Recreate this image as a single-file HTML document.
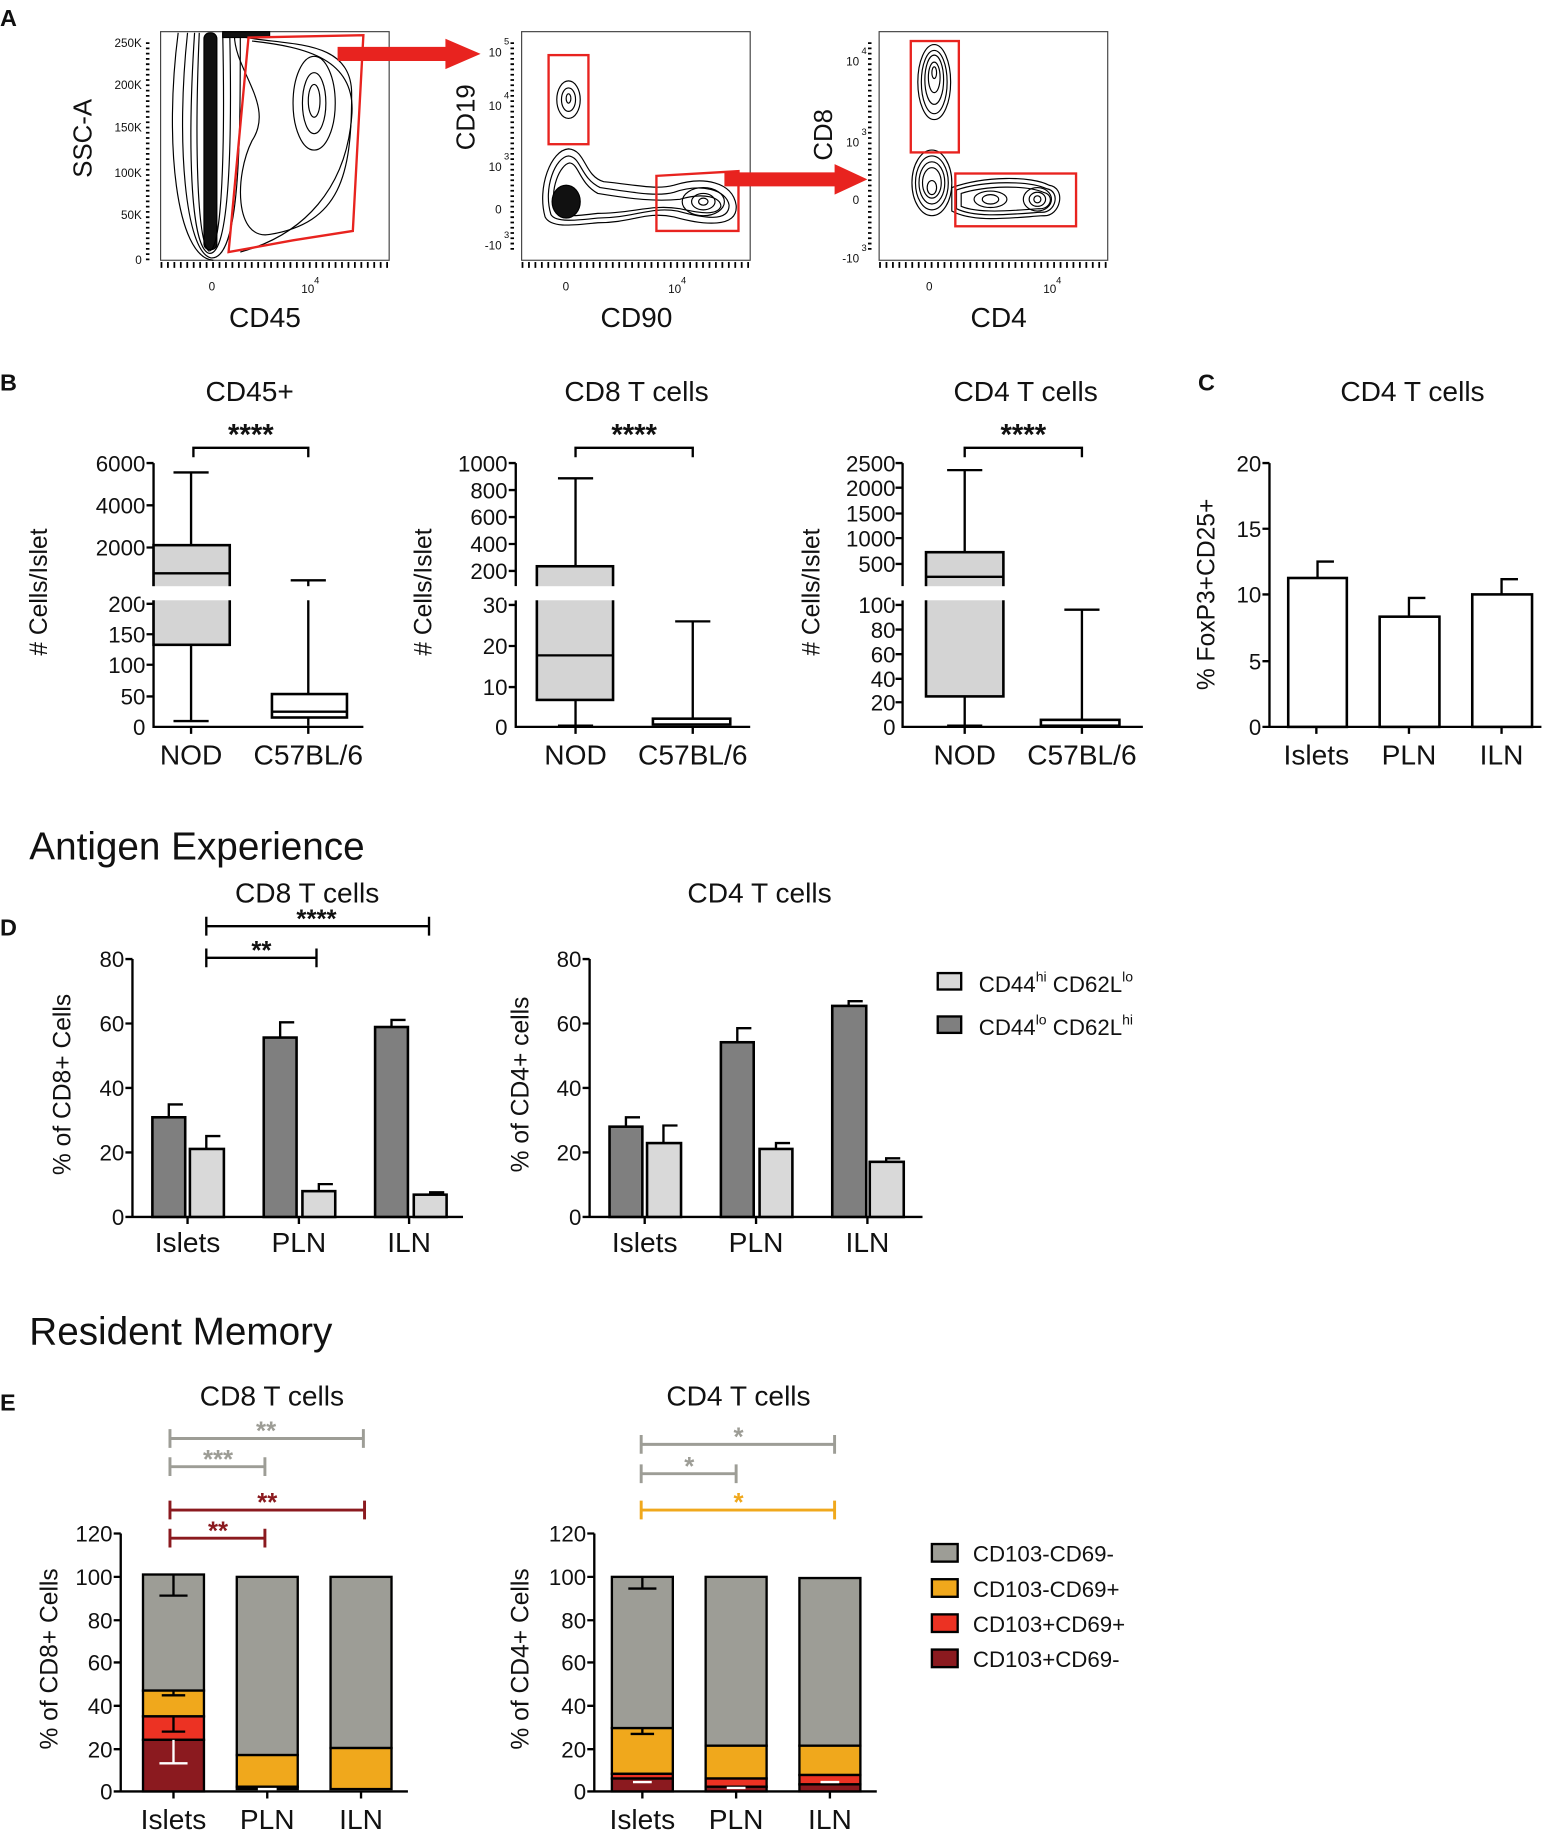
<!DOCTYPE html>
<html><head><meta charset="utf-8"><style>
html,body{margin:0;padding:0;background:#fff}
svg{display:block}
text{font-family:"Liberation Sans",Arial,sans-serif;fill:#111}
.t{font-size:19px}
.s{font-size:10px}
.ti{font-size:24px}
.st{font-size:25px;font-weight:bold}
.ax{stroke:#000;stroke-width:2;fill:none}
.c{fill:none;stroke:#000;stroke-width:1}
.bx{stroke:#000;stroke-width:2.2}
</style></head><body>
<svg width="1559" height="1843" viewBox="0 0 1330 1572" preserveAspectRatio="none" xmlns="http://www.w3.org/2000/svg">
<!-- ============ PANEL A ============ -->
<text x="0" y="22" style="font-size:20px;font-weight:bold">A</text>
<rect x="137" y="27" width="195" height="195" fill="none" stroke="#444" stroke-width="1"/>
<g class="s" text-anchor="end">
<text x="121" y="40">250K</text><text x="121" y="76">200K</text><text x="121" y="112">150K</text>
<text x="121" y="151">100K</text><text x="121" y="187">50K</text><text x="121" y="225">0</text></g>
<line x1="126" y1="36" x2="126" y2="222" stroke="#000" stroke-width="3" stroke-dasharray="1.5 3"/>
<line x1="137" y1="226" x2="332" y2="226" stroke="#000" stroke-width="5" stroke-dasharray="1.5 4"/>
<text class="s" x="178" y="248">0</text><text class="s" x="257" y="250">10</text><text x="268" y="242" style="font-size:8px">4</text>
<text x="78" y="118" class="ti" transform="rotate(-90 78 118)" text-anchor="middle" style="font-size:22px">SSC-A</text>
<text x="226" y="279" class="ti" text-anchor="middle">CD45</text>
<g class="c">
<rect x="174" y="28" width="11" height="185" rx="5" fill="#111"/>
<path d="M170 28 C166 120 168 205 178 214 C190 216 192 120 190 28"/>
<path d="M166 28 C160 120 162 210 178 216 C196 220 198 120 196 28"/>
<path d="M160 28 C150 120 158 215 180 220 C205 222 205 120 205 28"/>
<path d="M152 28 C140 120 150 220 182 222"/>
<path d="M200 30 C240 40 300 30 300 80 C300 150 290 190 230 200 C200 205 200 150 215 120 C235 90 200 60 200 30"/>
<path d="M215 35 C260 40 305 50 300 100 C295 160 260 200 205 215"/>
<ellipse cx="268" cy="88" rx="18" ry="40"/>
<ellipse cx="268" cy="88" rx="10" ry="26"/>
<ellipse cx="268" cy="86" rx="5" ry="14"/>
<rect x="190" y="27" width="40" height="5" fill="#111"/>
</g>
<polygon points="212,32 310,30 301,197 250,205 195,215" fill="none" stroke="#e8231f" stroke-width="2"/>
<polygon points="288,40 380,40 380,33 410,46 380,59 380,52 288,52" fill="#e8231f"/>
<!-- plot 2 -->
<rect x="445" y="27" width="195" height="195" fill="none" stroke="#444" stroke-width="1"/>
<line x1="437" y1="36" x2="437" y2="215" stroke="#000" stroke-width="3" stroke-dasharray="1.5 3"/>
<line x1="445" y1="226" x2="640" y2="226" stroke="#000" stroke-width="5" stroke-dasharray="1.5 4"/>
<g class="s" text-anchor="end"><text x="428" y="48">10</text><text x="428" y="94">10</text><text x="428" y="146">10</text><text x="428" y="182">0</text><text x="428" y="213">-10</text></g>
<g style="font-size:8px"><text x="430" y="38">5</text><text x="430" y="84">4</text><text x="430" y="136">3</text><text x="430" y="203">3</text></g>
<text class="s" x="480" y="248">0</text><text class="s" x="570" y="250">10</text><text x="581" y="242" style="font-size:8px">4</text>
<text x="405" y="100" class="ti" transform="rotate(-90 405 100)" text-anchor="middle" style="font-size:22px">CD19</text>
<text x="543" y="279" class="ti" text-anchor="middle">CD90</text>
<g class="c">
<ellipse cx="485" cy="85" rx="10" ry="16"/><ellipse cx="485" cy="85" rx="6" ry="10"/><ellipse cx="485" cy="84" rx="2" ry="4"/>
<path d="M465 185 C458 160 470 128 485 127 C500 128 498 150 515 155 C545 158 560 162 575 158 C600 150 625 155 628 175 C630 195 600 192 575 185 C550 180 540 190 510 190 C490 192 470 195 465 185Z"/>
<path d="M470 183 C463 160 474 134 485 133 C496 134 495 152 512 160 C540 164 560 168 575 164 C598 156 620 162 622 175 C622 190 600 186 578 180 C555 176 540 186 510 186 C492 188 474 190 470 183Z"/>
<path d="M474 180 C468 162 478 140 486 139 C494 140 494 156 510 165 C540 170 560 172 580 170 C600 164 615 168 615 176 C612 184 598 182 580 178 C555 174 540 182 510 182 C494 184 478 186 474 180Z"/>
<ellipse cx="483" cy="172" rx="12" ry="14" fill="#111"/>
<ellipse cx="600" cy="172" rx="18" ry="12"/><ellipse cx="600" cy="172" rx="10" ry="7"/><ellipse cx="600" cy="172" rx="4" ry="3"/>
</g>
<rect x="468" y="47" width="34" height="76" fill="none" stroke="#e8231f" stroke-width="2"/>
<polygon points="560,150 630,146 630,197 560,197" fill="none" stroke="#e8231f" stroke-width="2"/>
<polygon points="618,147 712,147 712,140 740,153 712,166 712,159 618,159" fill="#e8231f"/>
<!-- plot 3 -->
<rect x="750" y="27" width="195" height="195" fill="none" stroke="#444" stroke-width="1"/>
<line x1="742" y1="36" x2="742" y2="215" stroke="#000" stroke-width="3" stroke-dasharray="1.5 3"/>
<line x1="750" y1="226" x2="945" y2="226" stroke="#000" stroke-width="5" stroke-dasharray="1.5 4"/>
<g class="s" text-anchor="end"><text x="733" y="56">10</text><text x="733" y="125">10</text><text x="733" y="174">0</text><text x="733" y="224">-10</text></g>
<g style="font-size:8px"><text x="735" y="46">4</text><text x="735" y="115">3</text><text x="735" y="214">3</text></g>
<text class="s" x="790" y="248">0</text><text class="s" x="890" y="250">10</text><text x="901" y="242" style="font-size:8px">4</text>
<text x="710" y="115" class="ti" transform="rotate(-90 710 115)" text-anchor="middle" style="font-size:22px">CD8</text>
<text x="852" y="279" class="ti" text-anchor="middle">CD4</text>
<g class="c">
<ellipse cx="797" cy="70" rx="14" ry="32"/><ellipse cx="797" cy="70" rx="11" ry="27"/><ellipse cx="797" cy="68" rx="8" ry="21"/><ellipse cx="797" cy="66" rx="5" ry="13"/><ellipse cx="797" cy="62" rx="2" ry="5"/>
<ellipse cx="795" cy="156" rx="17" ry="28"/><ellipse cx="795" cy="156" rx="14" ry="23"/><ellipse cx="795" cy="156" rx="11" ry="18"/><ellipse cx="795" cy="156" rx="8" ry="13"/><ellipse cx="795" cy="160" rx="4" ry="6"/>
<path d="M812 160 C840 150 880 150 895 158 C910 160 905 185 890 184 C860 186 830 190 812 180Z"/>
<path d="M816 162 C840 154 878 154 893 161 C905 163 901 182 888 181 C860 183 832 186 816 178Z"/>
<path d="M820 165 C842 158 876 158 890 164 C900 166 897 179 886 178 C860 180 834 182 820 176Z"/>
<ellipse cx="845" cy="170" rx="14" ry="7"/><ellipse cx="845" cy="170" rx="7" ry="4"/>
<ellipse cx="885" cy="170" rx="12" ry="10"/><ellipse cx="885" cy="170" rx="7" ry="6"/><ellipse cx="885" cy="170" rx="3" ry="3"/>
</g>
<rect x="777" y="35" width="41" height="95" fill="none" stroke="#e8231f" stroke-width="2"/>
<rect x="815" y="148" width="103" height="45" fill="none" stroke="#e8231f" stroke-width="2"/>

<!-- ============ PANEL B ============ -->
<text x="0" y="333" style="font-size:20px;font-weight:bold">B</text>
<text x="213" y="342" class="ti" text-anchor="middle">CD45+</text>
<text x="543" y="342" class="ti" text-anchor="middle">CD8 T cells</text>
<text x="875" y="342" class="ti" text-anchor="middle">CD4 T cells</text>
<!-- B1 -->
<g class="t" text-anchor="end">
<text x="124" y="402">6000</text><text x="124" y="438">4000</text><text x="124" y="474">2000</text>
<text x="124" y="522">200</text><text x="124" y="548">150</text><text x="124" y="574">100</text><text x="124" y="601">50</text><text x="124" y="627">0</text></g>
<path class="ax" d="M131 395 V500 M131 512 V620 H310 M125 395 H131 M125 431 H131 M125 467 H131 M125 515 H131 M125 541 H131 M125 567 H131 M125 594 H131 M163 620 V626 M263 620 V626"/>
<rect x="131" y="465" width="65" height="85" fill="#d4d4d4" class="bx"/>
<path class="ax" d="M131 489 H196 M163 403 V465 M148 403 H178 M163 550 V615 M148 615 H178"/>
<rect x="232" y="592" width="64" height="20" fill="#fff" class="bx"/>
<path class="ax" d="M232 607 H296 M263 495 V592 M248 495 H278 M263 612 V619"/>
<rect x="120" y="500" width="200" height="12" fill="#fff"/>
<path class="ax" d="M165 390 V382 H263 V390"/>
<text x="214" y="379" class="st" text-anchor="middle">****</text>
<text x="40" y="505" class="t" transform="rotate(-90 40 505)" text-anchor="middle" style="font-size:21px"># Cells/Islet</text>
<text x="163" y="652" class="ti" text-anchor="middle">NOD</text><text x="263" y="652" class="ti" text-anchor="middle">C57BL/6</text>
<!-- B2 -->
<g class="t" text-anchor="end">
<text x="433" y="402">1000</text><text x="433" y="425">800</text><text x="433" y="448">600</text><text x="433" y="471">400</text><text x="433" y="494">200</text>
<text x="433" y="523">30</text><text x="433" y="558">20</text><text x="433" y="593">10</text><text x="433" y="627">0</text></g>
<path class="ax" d="M440 395 V500 M440 512 V620 H640 M434 395 H440 M434 418 H440 M434 441 H440 M434 464 H440 M434 487 H440 M434 516 H440 M434 551 H440 M434 586 H440 M491 620 V626 M591 620 V626"/>
<rect x="458" y="483" width="65" height="114" fill="#d4d4d4" class="bx"/>
<path class="ax" d="M458 559 H523 M491 408 V483 M476 408 H506 M491 597 V619 M476 619 H506"/>
<rect x="557" y="613" width="66" height="5" fill="#fff" class="bx"/>
<path class="ax" d="M591 530 V613 M576 530 H606"/>
<rect x="430" y="500" width="220" height="12" fill="#fff"/>
<path class="ax" d="M491 390 V382 H591 V390"/>
<text x="541" y="379" class="st" text-anchor="middle">****</text>
<text x="368" y="505" class="t" transform="rotate(-90 368 505)" text-anchor="middle" style="font-size:21px"># Cells/Islet</text>
<text x="491" y="652" class="ti" text-anchor="middle">NOD</text><text x="591" y="652" class="ti" text-anchor="middle">C57BL/6</text>
<!-- B3 -->
<g class="t" text-anchor="end">
<text x="764" y="402">2500</text><text x="764" y="423">2000</text><text x="764" y="445">1500</text><text x="764" y="466">1000</text><text x="764" y="488">500</text>
<text x="764" y="523">100</text><text x="764" y="544">80</text><text x="764" y="565">60</text><text x="764" y="586">40</text><text x="764" y="606">20</text><text x="764" y="627">0</text></g>
<path class="ax" d="M770 395 V500 M770 512 V620 H975 M764 395 H770 M764 416 H770 M764 438 H770 M764 459 H770 M764 481 H770 M764 516 H770 M764 537 H770 M764 558 H770 M764 579 H770 M764 599 H770 M823 620 V626 M923 620 V626"/>
<rect x="790" y="471" width="66" height="123" fill="#d4d4d4" class="bx"/>
<path class="ax" d="M790 492 H856 M823 401 V471 M808 401 H838 M823 594 V619 M808 619 H838"/>
<rect x="888" y="614" width="67" height="5" fill="#fff" class="bx"/>
<path class="ax" d="M923 520 V614 M908 520 H938"/>
<rect x="760" y="500" width="220" height="12" fill="#fff"/>
<path class="ax" d="M823 390 V382 H923 V390"/>
<text x="873" y="379" class="st" text-anchor="middle">****</text>
<text x="699" y="505" class="t" transform="rotate(-90 699 505)" text-anchor="middle" style="font-size:21px"># Cells/Islet</text>
<text x="823" y="652" class="ti" text-anchor="middle">NOD</text><text x="923" y="652" class="ti" text-anchor="middle">C57BL/6</text>

<!-- ============ PANEL C ============ -->
<text x="1022" y="333" style="font-size:20px;font-weight:bold">C</text>
<text x="1205" y="342" class="ti" text-anchor="middle">CD4 T cells</text>
<g class="t" text-anchor="end"><text x="1076" y="402">20</text><text x="1076" y="458">15</text><text x="1076" y="514">10</text><text x="1076" y="571">5</text><text x="1076" y="627">0</text></g>
<path class="ax" d="M1083 395 V620 H1315 M1077 395 H1083 M1077 451 H1083 M1077 507 H1083 M1077 564 H1083 M1077 620 H1083 M1123 620 V626 M1202 620 V626 M1281 620 V626"/>
<rect x="1099" y="493" width="50" height="127" fill="#fff" class="bx"/>
<rect x="1177" y="526" width="51" height="94" fill="#fff" class="bx"/>
<rect x="1256" y="507" width="51" height="113" fill="#fff" class="bx"/>
<path class="ax" d="M1124 493 V479 H1138 M1202 526 V510 H1216 M1281 507 V494 H1295"/>
<text x="1036" y="507" class="t" transform="rotate(-90 1036 507)" text-anchor="middle" style="font-size:21px">% FoxP3+CD25+</text>
<text x="1123" y="652" class="ti" text-anchor="middle">Islets</text><text x="1202" y="652" class="ti" text-anchor="middle">PLN</text><text x="1281" y="652" class="ti" text-anchor="middle">ILN</text>

<!-- ============ PANEL D ============ -->
<text x="25" y="733" style="font-size:33px">Antigen Experience</text>
<text x="0" y="798" style="font-size:20px;font-weight:bold">D</text>
<text x="262" y="770" class="ti" text-anchor="middle">CD8 T cells</text>
<text x="648" y="770" class="ti" text-anchor="middle">CD4 T cells</text>
<g class="t" text-anchor="end"><text x="106" y="825">80</text><text x="106" y="880">60</text><text x="106" y="935">40</text><text x="106" y="990">20</text><text x="106" y="1045">0</text></g>
<path class="ax" d="M113 818 V1038 H395 M107 818 H113 M107 873 H113 M107 928 H113 M107 983 H113 M107 1038 H113 M160 1038 V1044 M255 1038 V1044 M349 1038 V1044"/>
<g class="bx">
<rect x="130" y="953" width="28" height="85" fill="#7f7f7f"/><rect x="162" y="980" width="29" height="58" fill="#d9d9d9"/>
<rect x="225" y="885" width="28" height="153" fill="#7f7f7f"/><rect x="258" y="1016" width="28" height="22" fill="#d9d9d9"/>
<rect x="320" y="876" width="28" height="162" fill="#7f7f7f"/><rect x="353" y="1019" width="28" height="19" fill="#d9d9d9"/></g>
<path class="ax" d="M144 953 V942 H156 M176 980 V969 H188 M239 885 V872 H251 M272 1016 V1010 H284 M334 876 V870 H346 M367 1019 V1017 H379"/>
<path class="ax" d="M176 798 V782 M176 790 H366 M366 798 V782 M176 825 V809 M176 817 H270 M270 825 V809"/>
<text x="270" y="791" class="st" text-anchor="middle" style="font-size:22px">****</text>
<text x="223" y="818" class="st" text-anchor="middle" style="font-size:22px">**</text>
<text x="60" y="925" class="t" transform="rotate(-90 60 925)" text-anchor="middle" style="font-size:21px">% of CD8+ Cells</text>
<text x="160" y="1068" class="ti" text-anchor="middle">Islets</text><text x="255" y="1068" class="ti" text-anchor="middle">PLN</text><text x="349" y="1068" class="ti" text-anchor="middle">ILN</text>
<g class="t" text-anchor="end"><text x="496" y="825">80</text><text x="496" y="880">60</text><text x="496" y="935">40</text><text x="496" y="990">20</text><text x="496" y="1045">0</text></g>
<path class="ax" d="M503 818 V1038 H787 M497 818 H503 M497 873 H503 M497 928 H503 M497 983 H503 M497 1038 H503 M550 1038 V1044 M645 1038 V1044 M740 1038 V1044"/>
<g class="bx">
<rect x="520" y="961" width="28" height="77" fill="#7f7f7f"/><rect x="552" y="975" width="29" height="63" fill="#d9d9d9"/>
<rect x="615" y="889" width="28" height="149" fill="#7f7f7f"/><rect x="648" y="980" width="28" height="58" fill="#d9d9d9"/>
<rect x="710" y="858" width="29" height="180" fill="#7f7f7f"/><rect x="742" y="991" width="29" height="47" fill="#d9d9d9"/></g>
<path class="ax" d="M534 961 V953 H546 M566 975 V960 H578 M629 889 V877 H641 M662 980 V975 H674 M724 858 V854 H736 M756 991 V988 H768"/>
<text x="451" y="925" class="t" transform="rotate(-90 451 925)" text-anchor="middle" style="font-size:21px">% of CD4+ cells</text>
<text x="550" y="1068" class="ti" text-anchor="middle">Islets</text><text x="645" y="1068" class="ti" text-anchor="middle">PLN</text><text x="740" y="1068" class="ti" text-anchor="middle">ILN</text>
<rect x="800" y="830" width="20" height="14" fill="#d9d9d9" stroke="#000" stroke-width="2"/>
<rect x="800" y="867" width="20" height="14" fill="#7f7f7f" stroke="#000" stroke-width="2"/>
<text x="835" y="846" class="t">CD44<tspan dy="-9" style="font-size:12px">hi</tspan><tspan dy="9"> CD62L</tspan><tspan dy="-9" style="font-size:12px">lo</tspan></text>
<text x="835" y="883" class="t">CD44<tspan dy="-9" style="font-size:12px">lo</tspan><tspan dy="9"> CD62L</tspan><tspan dy="-9" style="font-size:12px">hi</tspan></text>

<!-- ============ PANEL E ============ -->
<text x="25" y="1147" style="font-size:33px">Resident Memory</text>
<text x="0" y="1203" style="font-size:20px;font-weight:bold">E</text>
<text x="232" y="1199" class="ti" text-anchor="middle">CD8 T cells</text>
<text x="630" y="1199" class="ti" text-anchor="middle">CD4 T cells</text>
<g class="t" text-anchor="end"><text x="96" y="1315">120</text><text x="96" y="1352">100</text><text x="96" y="1389">80</text><text x="96" y="1425">60</text><text x="96" y="1462">40</text><text x="96" y="1499">20</text><text x="96" y="1535">0</text></g>
<path class="ax" d="M103 1308 V1528 H348 M97 1308 H103 M97 1345 H103 M97 1382 H103 M97 1418 H103 M97 1455 H103 M97 1492 H103 M97 1528 H103 M148 1528 V1534 M228 1528 V1534 M308 1528 V1534"/>
<g stroke="#000" stroke-width="2">
<rect x="122" y="1343" width="52" height="99" fill="#9d9d96"/>
<rect x="122" y="1442" width="52" height="22" fill="#f0a81c"/>
<rect x="122" y="1464" width="52" height="20" fill="#ec3223"/>
<rect x="122" y="1484" width="52" height="44" fill="#8b1a1f"/>
<rect x="202" y="1345" width="52" height="152" fill="#9d9d96"/>
<rect x="202" y="1497" width="52" height="27" fill="#f0a81c"/>
<rect x="202" y="1524" width="52" height="2" fill="#ec3223"/>
<rect x="282" y="1345" width="52" height="146" fill="#9d9d96"/>
<rect x="282" y="1491" width="52" height="35" fill="#f0a81c"/>
</g>
<path class="ax" d="M148 1343 V1361 M136 1361 H160 M148 1442 V1446 M138 1446 H158 M148 1464 V1477 M138 1477 H158"/>
<path d="M148 1484 V1504 M136 1504 H160 M220 1526 H236" stroke="#fff" stroke-width="2"/>
<g fill="none" stroke-width="2.5">
<path stroke="#9d9d96" d="M145 1219 V1235 M145 1227 H310 M310 1219 V1235 M145 1243 V1259 M145 1251 H226 M226 1243 V1259"/>
<path stroke="#8b1a1f" d="M145 1280 V1296 M145 1288 H311 M311 1280 V1296 M145 1304 V1320 M145 1312 H226 M226 1304 V1320"/></g>
<text x="227" y="1228" class="st" text-anchor="middle" style="fill:#9d9d96;font-size:22px">**</text>
<text x="186" y="1252" class="st" text-anchor="middle" style="fill:#9d9d96;font-size:22px">***</text>
<text x="228" y="1289" class="st" text-anchor="middle" style="fill:#8b1a1f;font-size:22px">**</text>
<text x="186" y="1313" class="st" text-anchor="middle" style="fill:#8b1a1f;font-size:22px">**</text>
<text x="49" y="1415" class="t" transform="rotate(-90 49 1415)" text-anchor="middle" style="font-size:21px">% of CD8+ Cells</text>
<text x="148" y="1560" class="ti" text-anchor="middle">Islets</text><text x="228" y="1560" class="ti" text-anchor="middle">PLN</text><text x="308" y="1560" class="ti" text-anchor="middle">ILN</text>
<g class="t" text-anchor="end"><text x="500" y="1315">120</text><text x="500" y="1352">100</text><text x="500" y="1389">80</text><text x="500" y="1425">60</text><text x="500" y="1462">40</text><text x="500" y="1499">20</text><text x="500" y="1535">0</text></g>
<path class="ax" d="M507 1308 V1528 H748 M501 1308 H507 M501 1345 H507 M501 1382 H507 M501 1418 H507 M501 1455 H507 M501 1492 H507 M501 1528 H507 M548 1528 V1534 M628 1528 V1534 M708 1528 V1534"/>
<g stroke="#000" stroke-width="2">
<rect x="522" y="1345" width="52" height="129" fill="#9d9d96"/>
<rect x="522" y="1474" width="52" height="39" fill="#f0a81c"/>
<rect x="522" y="1513" width="52" height="4" fill="#ec3223"/>
<rect x="522" y="1517" width="52" height="11" fill="#8b1a1f"/>
<rect x="602" y="1345" width="52" height="144" fill="#9d9d96"/>
<rect x="602" y="1489" width="52" height="28" fill="#f0a81c"/>
<rect x="602" y="1517" width="52" height="7" fill="#ec3223"/>
<rect x="602" y="1524" width="52" height="4" fill="#8b1a1f"/>
<rect x="682" y="1346" width="52" height="143" fill="#9d9d96"/>
<rect x="682" y="1489" width="52" height="25" fill="#f0a81c"/>
<rect x="682" y="1514" width="52" height="8" fill="#ec3223"/>
<rect x="682" y="1522" width="52" height="6" fill="#8b1a1f"/>
</g>
<path class="ax" d="M548 1345 V1355 M536 1355 H560 M548 1474 V1479 M538 1479 H558"/>
<path d="M540 1520 H556 M620 1525 H636 M700 1520 H716" stroke="#fff" stroke-width="2"/>
<g fill="none" stroke-width="2.5">
<path stroke="#9d9d96" d="M547 1224 V1240 M547 1232 H712 M712 1224 V1240 M547 1249 V1265 M547 1257 H628 M628 1249 V1265"/>
<path stroke="#f0a81c" d="M547 1280 V1296 M547 1288 H712 M712 1280 V1296"/></g>
<text x="630" y="1233" class="st" text-anchor="middle" style="fill:#9d9d96;font-size:22px">*</text>
<text x="588" y="1258" class="st" text-anchor="middle" style="fill:#9d9d96;font-size:22px">*</text>
<text x="630" y="1289" class="st" text-anchor="middle" style="fill:#f0a81c;font-size:22px">*</text>
<text x="451" y="1415" class="t" transform="rotate(-90 451 1415)" text-anchor="middle" style="font-size:21px">% of CD4+ Cells</text>
<text x="548" y="1560" class="ti" text-anchor="middle">Islets</text><text x="628" y="1560" class="ti" text-anchor="middle">PLN</text><text x="708" y="1560" class="ti" text-anchor="middle">ILN</text>
<g stroke="#000" stroke-width="2">
<rect x="795" y="1317" width="22" height="15" fill="#9d9d96"/>
<rect x="795" y="1347" width="22" height="15" fill="#f0a81c"/>
<rect x="795" y="1377" width="22" height="15" fill="#ec3223"/>
<rect x="795" y="1407" width="22" height="15" fill="#8b1a1f"/></g>
<text x="830" y="1332" class="t">CD103-CD69-</text>
<text x="830" y="1362" class="t">CD103-CD69+</text>
<text x="830" y="1392" class="t">CD103+CD69+</text>
<text x="830" y="1422" class="t">CD103+CD69-</text>
</svg>
</body></html>
